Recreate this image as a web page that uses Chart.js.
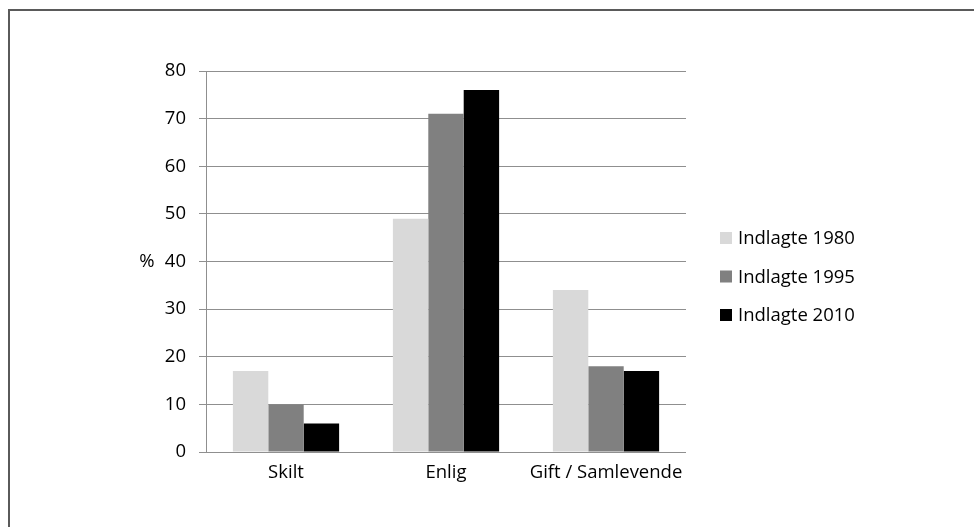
<!DOCTYPE html>
<html>
<head>
<meta charset="utf-8">
<script src="https://cdn.jsdelivr.net/npm/chart.js@4"></script>
<style>
  html, body { margin: 0; padding: 0; background: #fff; }
  #wrap { position: relative; width: 974px; height: 527px; }
</style>
</head>
<body>
<div id="wrap"><canvas id="chart" width="974" height="527"></canvas></div>
<script>
// Data
const categories = ['Skilt', 'Enlig', 'Gift / Samlevende'];
const seriesLabels = ['Indlagte 1980', 'Indlagte 1995', 'Indlagte 2010'];
const values1980 = [17, 49, 34];
const values1995 = [10, 71, 18];
const values2010 = [6, 76, 17];
const seriesColors = ['#d9d9d9', '#808080', '#000000'];

const FONT = '"Open Sans", Lato, sans-serif';
const FONT_SIZE = 18.5;
const gridColor = '#8f8f8f';

// Frame + "%" label + legend on the right
const decorations = {
    id: 'decorations',
    beforeDraw(chart) {
        const ctx = chart.ctx;
        ctx.save();
        ctx.fillStyle = '#ffffff';
        ctx.fillRect(0, 0, chart.width, chart.height);
        ctx.strokeStyle = '#5a5a5a';
        ctx.lineWidth = 2;
        ctx.beginPath();
        ctx.moveTo(9, chart.height);
        ctx.lineTo(9, 10);
        ctx.lineTo(chart.width, 10);
        ctx.stroke();
        ctx.restore();
    },
    afterDraw(chart) {
        const ctx = chart.ctx;
        const area = chart.chartArea;
        ctx.save();
        ctx.font = FONT_SIZE + 'px ' + FONT;
        ctx.fillStyle = '#000';
        ctx.textBaseline = 'middle';
        ctx.textAlign = 'center';
        ctx.fillText('%', 147, (area.top + area.bottom) / 2);

        ctx.textAlign = 'left';
        const x0 = area.right + 34;
        const y0 = 238;
        chart.data.datasets.forEach((ds, i) => {
            const y = y0 + i * 38.5;
            ctx.fillStyle = ds.backgroundColor;
            ctx.fillRect(x0, y - 6, 12, 12);
            ctx.fillStyle = '#000';
            ctx.fillText(ds.label, x0 + 18, y + 1);
        });
        ctx.restore();
    }
};

const datasets = [values1980, values1995, values2010].map((vals, i) => ({
    label: seriesLabels[i],
    data: vals,
    backgroundColor: seriesColors[i],
    borderWidth: 0
}));

new Chart(document.getElementById('chart'), {
    type: 'bar',
    data: { labels: categories, datasets: datasets },
    plugins: [decorations],
    options: {
        responsive: false,
        animation: false,
        devicePixelRatio: 1,
        layout: { padding: { left: 0, right: 288, top: 71, bottom: 0 } },
        datasets: {
            bar: { categoryPercentage: 0.664, barPercentage: 1 }
        },
        plugins: {
            legend: { display: false },
            tooltip: { enabled: false }
        },
        scales: {
            x: {
                grid: { display: false, drawTicks: false },
                border: { display: false },
                ticks: { color: '#000', font: { family: FONT, size: FONT_SIZE }, padding: 10 },
                afterFit(scale) { scale.height = 75; }
            },
            y: {
                min: 0,
                max: 80,
                grid: { color: gridColor, lineWidth: 1, tickLength: 7, tickColor: gridColor },
                border: { display: true, color: gridColor, width: 1 },
                ticks: { stepSize: 10, color: '#000', font: { family: FONT, size: FONT_SIZE }, padding: 13 },
                afterFit(scale) { scale.width = 206; }
            }
        }
    }
});
</script>
</body>
</html>
